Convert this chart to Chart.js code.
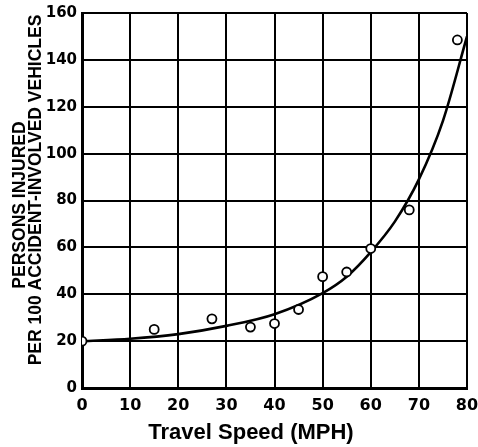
<!DOCTYPE html>
<html>
<head>
<meta charset="utf-8">
<script src="https://cdn.jsdelivr.net/npm/chart.js@4"></script>
<style>
  html, body { margin: 0; padding: 0; background: #fff; }
  #wrap { width: 478px; height: 447px; }
</style>
</head>
<body>
<div id="wrap"><canvas id="injuryChart" width="478" height="447"></canvas></div>
<script>
// observed points (speed mph, persons injured per 100 vehicles)
const obsSpeed = [0, 15, 27, 35, 40, 45, 50, 55, 60, 68, 78];
const obsInjured = [20, 25, 29.5, 26, 27.5, 33.5, 47.5, 49.5, 59.5, 76, 148.5];

// fitted curve
const curveSpeed = [0, 10, 20, 30, 40, 50, 55, 60, 65, 70, 75, 80];
const curveInjured = [20, 21, 23, 26.5, 31.5, 40.5, 47.5, 58, 71, 89, 114, 150];

const xTicks = [0, 10, 20, 30, 40, 50, 60, 70, 80];
const yTicks = [0, 20, 40, 60, 80, 100, 120, 140, 160];

const xTitle = 'Travel Speed (MPH)';
const yTitle = ['PERSONS INJURED', 'PER 100 ACCIDENT-INVOLVED VEHICLES'];

const obsPoints = obsSpeed.map((s, i) => ({ x: s, y: obsInjured[i] }));
const curvePoints = curveSpeed.map((s, i) => ({ x: s, y: curveInjured[i] }));

// axis titles sit slightly off-centre in the original, so place them by hand
const axisTitles = {
    id: 'axisTitles',
    afterDraw(chart) {
        const c = chart.ctx;
        c.save();
        c.fillStyle = '#000';
        c.textAlign = 'center';
        c.textBaseline = 'middle';
        c.font = 'bold 22px "Liberation Sans"';
        c.fillText(xTitle, 251, 433);
        c.font = 'bold 17.5px "Liberation Sans"';
        c.save();
        c.translate(20, 205);
        c.rotate(-Math.PI / 2);
        c.fillText(yTitle[0], 0, 0);
        c.restore();
        c.save();
        c.translate(36, 190);
        c.rotate(-Math.PI / 2);
        c.fillText(yTitle[1], 0, 0);
        c.restore();
        c.restore();
    }
};

const ctx = document.getElementById('injuryChart').getContext('2d');

new Chart(ctx, {
    type: 'scatter',
    data: {
        datasets: [{
            label: 'observed',
            data: obsPoints,
            pointRadius: 4.5,
            pointBorderWidth: 1.8,
            pointBorderColor: '#000',
            pointBackgroundColor: '#fff',
            showLine: false
        }, {
            label: 'fit',
            data: curvePoints,
            showLine: true,
            pointRadius: 0,
            borderColor: '#000',
            borderWidth: 2.6,
            cubicInterpolationMode: 'monotone',
            fill: false
        }]
    },
    options: {
        responsive: false,
        animation: false,
        layout: { padding: { top: 13, right: 11, left: 0, bottom: 0 } },
        plugins: {
            legend: { display: false },
            tooltip: { enabled: false }
        },
        scales: {
            x: {
                type: 'linear',
                min: 0,
                max: 80,
                afterBuildTicks: (axis) => { axis.ticks = xTicks.map(v => ({ value: v })); },
                afterFit: (axis) => {
                    axis.height = 59;
                    axis.paddingLeft = 0;
                    axis.paddingRight = 0;
                },
                grid: { color: '#000', lineWidth: 2, drawTicks: false },
                border: { color: '#000', width: 3 },
                ticks: {
                    color: '#000',
                    padding: 8,
                    font: { family: 'DejaVu Sans', size: 16, weight: 'bold' }
                },
                title: { display: false }
            },
            y: {
                type: 'linear',
                min: 0,
                max: 160,
                afterBuildTicks: (axis) => { axis.ticks = yTicks.map(v => ({ value: v })); },
                afterFit: (axis) => {
                    axis.width = 82;
                    axis.paddingTop = 0;
                    axis.paddingBottom = 0;
                },
                grid: { color: '#000', lineWidth: 2, drawTicks: false },
                border: { color: '#000', width: 3 },
                ticks: {
                    color: '#000',
                    padding: 5,
                    font: { family: 'DejaVu Sans', size: 15, weight: 'bold' }
                },
                title: { display: false }
            }
        }
    },
    plugins: [axisTitles]
});
</script>
</body>
</html>
